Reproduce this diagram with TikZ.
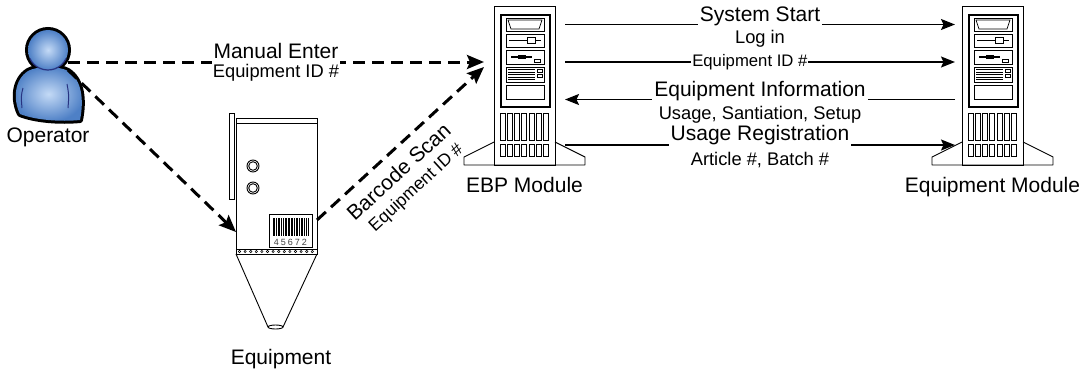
\documentclass[tikz,border=0pt]{standalone}
\usepackage{fontspec}
\setmainfont{Liberation Sans}
\usetikzlibrary{arrows.meta}

\newcommand\szA{\fontsize{21}{24}\selectfont}
\newcommand\szB{\fontsize{18.3}{21}\selectfont}
\newcommand\szC{\fontsize{16.7}{19}\selectfont}
\newcommand\szD{\fontsize{17.5}{20}\selectfont}

\definecolor{userlight}{RGB}{196,218,246}
\definecolor{userdark}{RGB}{78,128,198}
\definecolor{userline}{RGB}{40,52,130}

\tikzset{
  % tower computer, origin at the top left corner of the case
  server/.pic={
    \draw[line width=0.9pt, line join=round]
      (0,136) -- (-30,151) -- (-30,159) -- (91,159) -- (91,151) -- (61,136);
    \draw[line width=0.9pt] (0,0) rectangle (61,159);
    \draw[line width=1.8pt] (7,9) rectangle (56,101);
    \begin{scope}[line width=0.7pt]
      \draw (12,12) rectangle (50,25);
      \draw (14,14) -- (48,14) -- (45,23) -- (17,23) -- cycle;
      \draw (12,28) rectangle (50,41);
      \draw (15,34.5) -- (47,34.5);
      \draw[fill=white] (33,31.5) rectangle (41,37.5);
      \draw (12,44) rectangle (50,58);
      \draw[line width=1.4pt] (17,51) -- (38,51);
      \fill (24,49) rectangle (32,53);
      \draw (40,53) rectangle (46,56);
      \draw (12,61) rectangle (50,76);
      \foreach \yy in {63.5,66,68.5,71,73.5} \draw[line width=0.5pt] (14,\yy) -- (41,\yy);
      \draw (43,63) rectangle (48,66);
      \draw (43,68) rectangle (48,71);
      \draw (12,79) rectangle (50,93);
      \foreach \i in {0,...,6} {
        \draw (6.5+\i*7.1,107) rectangle ++(5,27);
        \draw (6.5+\i*7.1,138) rectangle ++(5,12);
      }
    \end{scope}
  },
  opbody/.style={insert path={
    (20,114) .. controls (13,100) and (14,80) .. (28,71)
    .. controls (36,66) and (60,66) .. (68,71)
    .. controls (82,80) and (84,100) .. (80,120)
    .. controls (60,122) and (35,120) .. (20,114) -- cycle}},
  frame/.style={inner sep=0pt, outer sep=0pt},
  dasharrow/.style={line width=3pt, dash pattern=on 12pt off 7pt,
    -{Stealth[length=17pt,width=14pt,inset=3pt]}},
  solidarrow/.style={line width=1.6pt,
    -{Stealth[length=14pt,width=11pt,inset=2.5pt]}},
  cutlbl/.style={fill=white, inner xsep=2pt, inner ysep=0pt, text depth=6pt, anchor=base},
  sublbl/.style={inner sep=0pt, anchor=base},
  namelbl/.style={inner sep=0pt, anchor=base, font=\szA},
}

\begin{document}
\begin{tikzpicture}[x=1pt, y=-1pt]
\useasboundingbox (0,0) rectangle (1083,372);
\fill[white] (0,0) rectangle (1083,372);

% frames used as connector ends
\node[frame, minimum width=40pt, minimum height=90pt] (op) at (48,75) {};
\node[frame, minimum width=81pt, minimum height=136pt] (equip) at (276.5,186) {};
\node[frame, minimum width=81pt, minimum height=154pt] (ebp) at (524.5,83) {};
\node[frame, minimum width=75pt, minimum height=154pt] (eqm) at (992.5,83) {};

% operator icon
\draw[line width=6pt, line join=round, opbody];
\draw[line width=6pt] (48,50) circle[radius=20];
\shade[inner color=userlight, outer color=userdark, opbody];
\shade[inner color=userlight, outer color=userdark] (48,50) circle[radius=20];
\draw[userline, line width=1.2pt] (48,50) ++(25:20) arc[start angle=25, end angle=155, radius=20];
\draw[userline, line width=1pt] (23,88) .. controls (21,96) .. (22,108);
\draw[userline, line width=1pt] (67,84) .. controls (69,95) .. (68,108);
\node[namelbl] (oplbl) at (48,142) {Operator};

% equipment: hopper unit with barcode tag
\begin{scope}[line width=0.9pt]
  \draw (229,113) rectangle (234,199);
  \draw (236,118) rectangle (317,123);
  \draw (236,123) rectangle (317,254);
  \draw (236,249) -- (317,249);
  \foreach \i in {0,...,13} \draw[line width=0.5pt] (239.5+\i*5.6,251.5) circle[radius=1.2];
  \draw (236,254) -- (268,327) (317,254) -- (283,327);
  \draw (275.5,327) ellipse[x radius=7.5, y radius=2];
  \foreach \yy in {166,188} {
    \draw (253,\yy) circle[radius=6];
    \draw (253,\yy) circle[radius=4.3];
  }
  \draw (269,214) rectangle (312,247);
\end{scope}
\foreach \x/\w in {0/1.5,2.5/1,4.5/2,7.5/1,9.5/1,11.5/2,14.5/1,16.3/1,18/2,21/1,
                   23/1.5,25.5/1,27.5/2,30.5/1,32.5/1.5,34.5/1}
  \fill (273+\x,218) rectangle ++(\w,18);
\node[inner sep=0pt, anchor=base, text=black!75, font=\fontsize{9}{10}\selectfont] (code)
  at (290.5,245.5) {4\hspace{2pt}5\hspace{2pt}6\hspace{2pt}7\hspace{2pt}2};
\node[namelbl] (eqlbl) at (281,364) {Equipment};

% servers
\pic at (494,6) {server};
\pic at (962,6) {server};
\node[namelbl] (ebplbl) at (524.5,192) {EBP Module};
\node[namelbl] (eqmlbl) at (992.5,192) {Equipment Module};

% operator and equipment to EBP
\draw[dasharrow] (op.east |- 0,62) --
  node[cutlbl, pos=0.5, font=\szA, yshift=3.5pt] {Manual Enter}
  node[sublbl, pos=0.5, font=\szB, yshift=-15.5pt] {Equipment ID \#}
  (ebp.west |- 0,62);
\draw[dasharrow] (op.east |- 0,70) -- (equip.west |- 0,232);
\draw[dasharrow] (equip.east |- 0,220) --
  node[sloped, pos=0.41, anchor=north, inner xsep=0pt, inner ysep=10pt, font=\szA] {Barcode Scan}
  node[sloped, pos=0.42, anchor=north, inner xsep=0pt, inner ysep=34pt, font=\szD] {Equipment ID \#}
  (ebp.west |- 0,67);

% messages between EBP and equipment module
\draw[solidarrow] (ebp.east |- 0,24.5) --
  node[cutlbl, pos=0.5, font=\szA, yshift=3pt] {System Start}
  node[sublbl, pos=0.5, font=\szB, yshift=-19pt] {Log in}
  (eqm.west |- 0,24.5);
\draw[solidarrow] (ebp.east |- 0,62) --
  node[pos=0.474, fill=white, inner sep=1pt, font=\szC] {Equipment ID \#}
  (eqm.west |- 0,62);
\draw[solidarrow] (eqm.west |- 0,99.5) --
  node[cutlbl, pos=0.5, font=\szA, yshift=3pt] {Equipment Information}
  node[sublbl, pos=0.5, font=\szB, yshift=-20pt] {Usage, Santiation, Setup}
  (ebp.east |- 0,99.5);
\draw[solidarrow] (ebp.east |- 0,145) --
  node[cutlbl, pos=0.5, font=\szA, yshift=4.5pt] {Usage Registration}
  node[sublbl, pos=0.5, font=\szB, yshift=-20.5pt] {Article \#, Batch \#}
  (eqm.west |- 0,145);
\end{tikzpicture}
\end{document}
